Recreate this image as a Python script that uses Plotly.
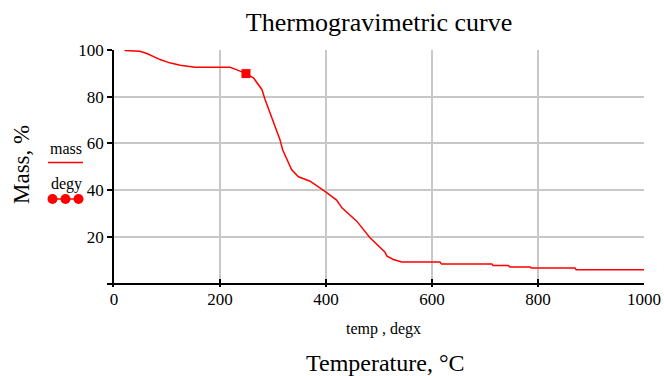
import plotly.graph_objects as go

temp = [20, 49, 62, 87, 105, 125, 153, 219, 231, 249, 263, 279, 285, 300, 313, 318, 326,
        335, 348, 370, 400, 420, 430, 458, 483, 502, 511, 515, 527, 543, 615, 618, 713,
        715, 744, 747, 785, 787, 870, 872, 1000]
mass = [99.8, 99.5, 98.5, 95.9, 94.5, 93.5, 92.6, 92.6, 91.6, 89.9, 88.1, 83.1, 78.8, 70.0,
        61.7, 57.4, 53.1, 48.8, 45.7, 43.8, 39.1, 35.7, 32.4, 26.7, 19.6, 15.3, 13.5, 11.7,
        10.3, 9.2, 9.2, 8.4, 8.4, 7.7, 7.7, 7.1, 7.1, 6.6, 6.6, 5.9, 5.9]
degx = [249]
degy = [89.9]

x_ticks = [0, 200, 400, 600, 800, 1000]
y_ticks = [0, 20, 40, 60, 80, 100]
y_ticktext = ["", "20", "40", "60", "80", "100"]

RED = "#ff0000"
FONT = "Liberation Serif"

fig = go.Figure()
fig.add_trace(go.Scatter(x=temp, y=mass, mode="lines", line=dict(color=RED, width=1.5),
                         name="mass", showlegend=False))
fig.add_trace(go.Scatter(x=degx, y=degy, mode="markers",
                         marker=dict(color=RED, size=9, symbol="square"),
                         name="degy", showlegend=False))

L, R, T, B = 114, 20, 50, 89
W, H = 664, 376
pw = W - L - R
ph = H - T - B

def px_x(px):
    return (px - L) / pw

def px_y(py):
    return (H - B - py) / ph

shapes = []
shapes.append(dict(type="line", xref="paper", yref="paper",
                   x0=px_x(48), x1=px_x(83), y0=px_y(162.5), y1=px_y(162.5),
                   line=dict(color=RED, width=1.5)))
shapes.append(dict(type="line", xref="paper", yref="paper",
                   x0=px_x(52), x1=px_x(78), y0=px_y(199), y1=px_y(199),
                   line=dict(color=RED, width=1.5)))
for cx in [52.5, 65.5, 78.5]:
    shapes.append(dict(type="circle", xref="paper", yref="paper",
                       xsizemode="pixel", ysizemode="pixel",
                       xanchor=px_x(cx), yanchor=px_y(199),
                       x0=-5, x1=5, y0=-5, y1=5,
                       fillcolor=RED, line=dict(color=RED, width=0)))

annotations = [
    dict(text="mass", xref="paper", yref="paper", x=px_x(66), y=px_y(148),
         xanchor="center", yanchor="middle",
         showarrow=False, font=dict(family=FONT, size=16, color="black")),
    dict(text="degy", xref="paper", yref="paper", x=px_x(66), y=px_y(184),
         xanchor="center", yanchor="middle",
         showarrow=False, font=dict(family=FONT, size=16, color="black")),
    dict(text="temp , degx", xref="paper", yref="paper", x=px_x(383), y=px_y(329),
         xanchor="center", yanchor="middle",
         showarrow=False, font=dict(family=FONT, size=16, color="black")),
    dict(text="Temperature, °C", xref="paper", yref="paper", x=px_x(385), y=px_y(363),
         xanchor="center", yanchor="middle",
         showarrow=False, font=dict(family=FONT, size=24, color="black")),
    dict(text="Mass, %", xref="paper", yref="paper", x=px_x(21), y=px_y(165),
         xanchor="center", yanchor="middle",
         showarrow=False, textangle=-90, font=dict(family=FONT, size=23, color="black")),
]

fig.update_layout(
    width=W, height=H,
    margin=dict(l=L, r=R, t=T, b=B, autoexpand=False),
    paper_bgcolor="white", plot_bgcolor="white",
    title=dict(text="Thermogravimetric curve", x=(L + pw / 2) / W, xanchor="center",
               y=1 - 22 / H, yanchor="middle",
               font=dict(family=FONT, size=26, color="black")),
    font=dict(family=FONT, size=17, color="black"),
    shapes=shapes, annotations=annotations,
    xaxis=dict(range=[0, 1000], tickvals=x_ticks, showgrid=True, gridcolor="#c8c8c8",
               gridwidth=1.5, zeroline=False, showline=False, ticks="inside",
               ticklen=8, tickwidth=1.5, tickcolor="black", automargin=False,
               tickfont=dict(family=FONT, size=17, color="black")),
    yaxis=dict(range=[-1.5, 100], tickvals=y_ticks, ticktext=y_ticktext, showgrid=True,
               gridcolor="#c8c8c8", gridwidth=1.5, zeroline=True, zerolinecolor="black",
               zerolinewidth=1.5, showline=True, linecolor="black", linewidth=1.5,
               ticks="outside", ticklen=5, tickwidth=1.5, tickcolor="black",
               automargin=False,
               tickfont=dict(family=FONT, size=17, color="black")),
)

fig.write_html("out.html")
